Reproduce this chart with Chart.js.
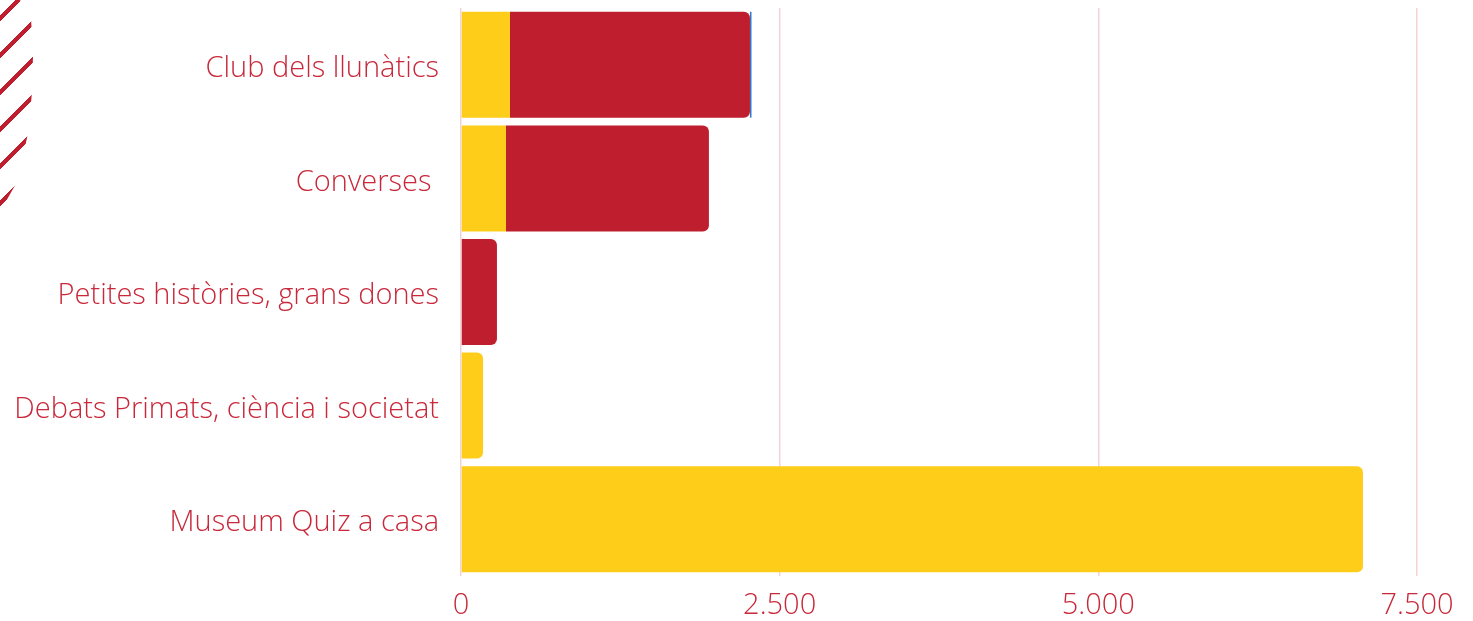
<!DOCTYPE html>
<html>
<head>
<meta charset="utf-8">
<script src="https://cdn.jsdelivr.net/npm/chart.js@4"></script>
<style>
  html, body { margin: 0; padding: 0; background: #fff; }
  #wrap { position: relative; width: 1473px; height: 621px; }
  #stripes {
    position: absolute; left: 0; top: 0; width: 34px; height: 212px;
    background: repeating-linear-gradient(135deg, transparent 0 11px, #be1e2d 11px 15px, transparent 15px 26.2px);
    clip-path: polygon(0 0, 20px 0, 31px 18px, 33px 55px, 32px 92px, 28px 133px, 18px 180px, 0 212px);
  }
</style>
</head>
<body>
<div id="wrap">
  <canvas id="chart" width="1473" height="621"></canvas>
  <div id="stripes"></div>
</div>
<script>
// Dades del gràfic
const categories = ['Club dels llunàtics', 'Converses ', 'Petites històries, grans dones', 'Debats Primats, ciència i societat', 'Museum Quiz a casa'];
const yellowValues = [384, 353, 0, 173, 7076];
const redValues = [1883, 1592, 282, 0, 0];
const blueValues = [12, 0, 0, 0, 0];
const xTickLabels = ['0', '2.500', '5.000', '7.500'];

const textColor = '#c8283a';

Chart.defaults.font.family = '"Open Sans", sans-serif';
Chart.defaults.font.weight = 300;

const ctx = document.getElementById('chart').getContext('2d');

new Chart(ctx, {
  type: 'bar',
  data: {
    labels: categories,
    datasets: [{
      label: 'Sèrie 1',
      data: yellowValues,
      backgroundColor: '#fdcd19',
      borderRadius: 6
    }, {
      label: 'Sèrie 2',
      data: redValues,
      backgroundColor: '#be1e2d',
      borderRadius: { topLeft: 0, bottomLeft: 0, topRight: 6, bottomRight: 6 }
    }, {
      label: 'Sèrie 3',
      data: blueValues,
      backgroundColor: '#2f78d0',
      borderRadius: 6
    }]
  },
  options: {
    indexAxis: 'y',
    responsive: false,
    animation: false,
    layout: { padding: { left: 0, right: 56, top: 8, bottom: 0 } },
    datasets: {
      bar: { categoryPercentage: 1, barPercentage: 0.933 }
    },
    plugins: {
      legend: { display: false },
      tooltip: { enabled: false }
    },
    scales: {
      x: {
        stacked: true,
        min: 0,
        max: 7500,
        border: { display: false },
        grid: { color: '#f3d3d8', lineWidth: 1.5, drawTicks: false },
        afterFit: function(scale) {
          scale.height = 45;
        },
        ticks: {
          stepSize: 2500,
          padding: 15,
          color: textColor,
          font: { size: 29, lineHeight: 1 },
          callback: function(value, index) { return xTickLabels[index]; }
        }
      },
      y: {
        stacked: true,
        border: { display: false },
        grid: { display: false },
        afterFit: function(scale) {
          scale.width = 461;
          scale.paddingTop = 0;
          scale.paddingBottom = 0;
        },
        ticks: {
          padding: 14,
          labelOffset: 4,
          color: textColor,
          font: { size: 29 }
        }
      }
    }
  }
});
</script>
</body>
</html>
